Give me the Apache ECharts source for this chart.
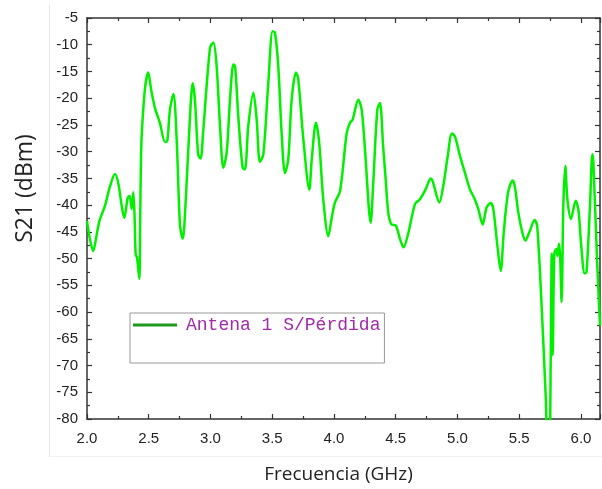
<!DOCTYPE html>
<html>
<head>
<meta charset="utf-8">
<script src="https://cdn.jsdelivr.net/npm/echarts@6/dist/echarts.min.js"></script>
<style>html,body{margin:0;padding:0;background:#fff}#c{width:602px;height:489px}</style>
</head>
<body>
<div id="c"></div>
<script>
var seriesName = 'Antena 1 S/Pérdida';
var freqGHz = [
2.000,2.025,2.050,2.075,2.100,2.146,2.186,2.227,2.254,2.280,2.302,2.330,2.345,2.362,2.375,2.385,2.394,2.405,2.424,2.430,2.437,2.445,2.470,2.496,2.520,2.550,2.590,2.632,2.650,2.672,2.700,2.726,2.753,2.775,2.800,2.834,2.856,2.874,2.900,2.920,2.940,2.996,3.023,3.050,3.077,3.104,3.131,3.158,3.185,3.199,3.225,3.260,3.279,3.306,3.347,3.374,3.400,3.428,3.468,3.503,3.522,3.549,3.576,3.603,3.630,3.657,3.692,3.710,3.752,3.800,3.820,3.854,3.880,3.913,3.954,3.980,4.008,4.049,4.103,4.130,4.151,4.197,4.224,4.251,4.297,4.318,4.351,4.372,4.398,4.418,4.440,4.465,4.500,4.534,4.563,4.600,4.656,4.696,4.745,4.783,4.800,4.853,4.885,4.920,4.955,4.980,5.020,5.060,5.100,5.140,5.168,5.204,5.236,5.269,5.290,5.320,5.350,5.375,5.410,5.447,5.465,5.492,5.528,5.550,5.581,5.625,5.645,5.681,5.715,5.730,5.745,5.755,5.763,5.771,5.784,5.800,5.810,5.822,5.832,5.843,5.857,5.873,5.890,5.919,5.957,5.980,6.000,6.030,6.045,6.073,6.092,6.100,6.132,6.154
];
var s21dBm = [
-43.0,-46.5,-48.6,-46.0,-43.0,-40.1,-36.5,-34.2,-36.0,-40.0,-42.4,-38.6,-38.3,-40.7,-37.6,-42.0,-49.2,-49.8,-53.8,-44.0,-31.4,-26.0,-18.1,-15.2,-18.5,-21.8,-24.6,-28.2,-28.0,-22.1,-19.2,-27.7,-43.8,-46.3,-38.9,-23.4,-17.2,-20.3,-30.5,-31.3,-26.5,-10.6,-9.6,-14.1,-25.2,-33.0,-30.2,-20.3,-13.7,-14.0,-23.4,-33.0,-33.3,-25.2,-19.0,-24.0,-31.9,-30.5,-17.2,-7.5,-7.7,-14.1,-26.5,-34.0,-31.4,-20.3,-15.2,-16.3,-27.7,-37.1,-31.4,-24.6,-28.3,-38.9,-45.8,-42.6,-39.5,-37.4,-26.5,-24.6,-24.0,-20.3,-22.1,-29.6,-43.3,-35.8,-22.1,-20.9,-29.0,-35.0,-41.5,-43.6,-43.8,-46.3,-47.9,-45.4,-39.8,-38.9,-36.9,-35.0,-35.6,-39.5,-36.4,-31.0,-26.6,-27.2,-30.8,-33.9,-37.0,-38.9,-40.7,-43.6,-40.4,-39.6,-40.7,-46.9,-52.3,-45.0,-37.6,-35.4,-36.6,-41.3,-45.4,-46.6,-45.1,-42.8,-43.8,-58.7,-76.1,-84.0,-84.0,-68.7,-49.1,-68.0,-49.1,-48.2,-49.5,-47.2,-50.0,-58.1,-40.1,-32.7,-38.9,-42.6,-39.2,-41.0,-47.0,-52.8,-52.5,-40.1,-30.5,-31.9,-51.3,-62.5
];
var xMin = 2.0, xMax = 6.154, xStep = 0.5;
var yMin = -80, yMax = -5, yStep = 5;
var xName = 'Frecuencia (GHz)';
var yName = 'S21 (dBm)';

var points = freqGHz.map(function (f, i) { return [f, s21dBm[i]]; });
var axisCol = '#333';
var labelFont = { fontFamily: 'Liberation Sans', fontSize: 15, color: '#222' };

var chart = echarts.init(document.getElementById('c'), null, { renderer: 'canvas' });
chart.setOption({
  animation: false,
  backgroundColor: '#fff',
  grid: { left: 87, right: 2, top: 18, bottom: 68 },
  xAxis: [{
    type: 'value', min: xMin, max: xMax, interval: xStep, position: 'bottom',
    name: xName, nameLocation: 'middle', nameGap: 46,
    nameTextStyle: { fontFamily: 'Open Sans', fontSize: 19, color: '#222', padding: [0, 10, 0, 0] },
    axisLine: { show: true, onZero: false, lineStyle: { color: axisCol, width: 1.5 } },
    axisTick: { show: true, inside: true, length: 5, lineStyle: { color: axisCol, width: 1.2 } },
    minorTick: { show: true, splitNumber: 2, length: 3, lineStyle: { color: axisCol, width: 1.2 } },
    axisLabel: Object.assign({ margin: 12, showMaxLabel: false, formatter: function (v) { return v.toFixed(1); } }, labelFont),
    splitLine: { show: false }
  }, {
    type: 'value', min: xMin, max: xMax, interval: xStep, position: 'top',
    axisLine: { show: true, onZero: false, lineStyle: { color: axisCol, width: 1.5 } },
    axisTick: { show: true, inside: true, length: 5, lineStyle: { color: axisCol, width: 1.2 } },
    minorTick: { show: true, splitNumber: 2, length: 3, lineStyle: { color: axisCol, width: 1.2 } },
    axisLabel: { show: false }, splitLine: { show: false }
  }],
  yAxis: [{
    type: 'value', min: yMin, max: yMax, interval: yStep, position: 'left',
    name: yName, nameLocation: 'middle', nameGap: 50, nameRotate: 90,
    nameTextStyle: { fontFamily: 'Open Sans', fontSize: 23, color: '#222', padding: [0, 0, 0, 60] },
    axisLine: { show: true, onZero: false, lineStyle: { color: axisCol, width: 1.5 } },
    axisTick: { show: true, inside: true, length: 5, lineStyle: { color: axisCol, width: 1.2 } },
    minorTick: { show: true, splitNumber: 2, length: 3, lineStyle: { color: axisCol, width: 1.2 } },
    axisLabel: Object.assign({ margin: 9 }, labelFont),
    splitLine: { show: false }
  }, {
    type: 'value', min: yMin, max: yMax, interval: yStep, position: 'right',
    axisLine: { show: true, onZero: false, lineStyle: { color: axisCol, width: 1.5 } },
    axisTick: { show: true, inside: true, length: 5, lineStyle: { color: axisCol, width: 1.2 } },
    minorTick: { show: true, splitNumber: 2, length: 3, lineStyle: { color: axisCol, width: 1.2 } },
    axisLabel: { show: false }, splitLine: { show: false }
  }],
  legend: {
    show: true, left: 130, top: 313, orient: 'vertical',
    padding: [1, 4, 27, 3],
    borderColor: '#999', borderWidth: 1, borderRadius: 0,
    icon: 'rect', itemWidth: 44, itemHeight: 3,
    itemStyle: { color: '#1f9a1f' },
    textStyle: { fontFamily: 'Liberation Mono', fontSize: 18, lineHeight: 22, color: '#a02aa8', padding: [0, 0, 0, 4] },
    data: [seriesName]
  },
  graphic: [
    { type: 'line', silent: true, z: -10, shape: { x1: 49.5, y1: 5, x2: 49.5, y2: 457 }, style: { stroke: '#e6e6e6', lineWidth: 1 } },
    { type: 'line', silent: true, z: -10, shape: { x1: 49.5, y1: 456.5, x2: 602, y2: 456.5 }, style: { stroke: '#f0f0f0', lineWidth: 1 } }
  ],
  series: [{
    name: seriesName, type: 'line', xAxisIndex: 0, yAxisIndex: 0,
    data: points, showSymbol: false, smooth: 0.3, clip: true,
    lineStyle: { color: '#00f000', width: 2.5 },
    itemStyle: { color: '#00f000' }
  }]
});
</script>
</body>
</html>
